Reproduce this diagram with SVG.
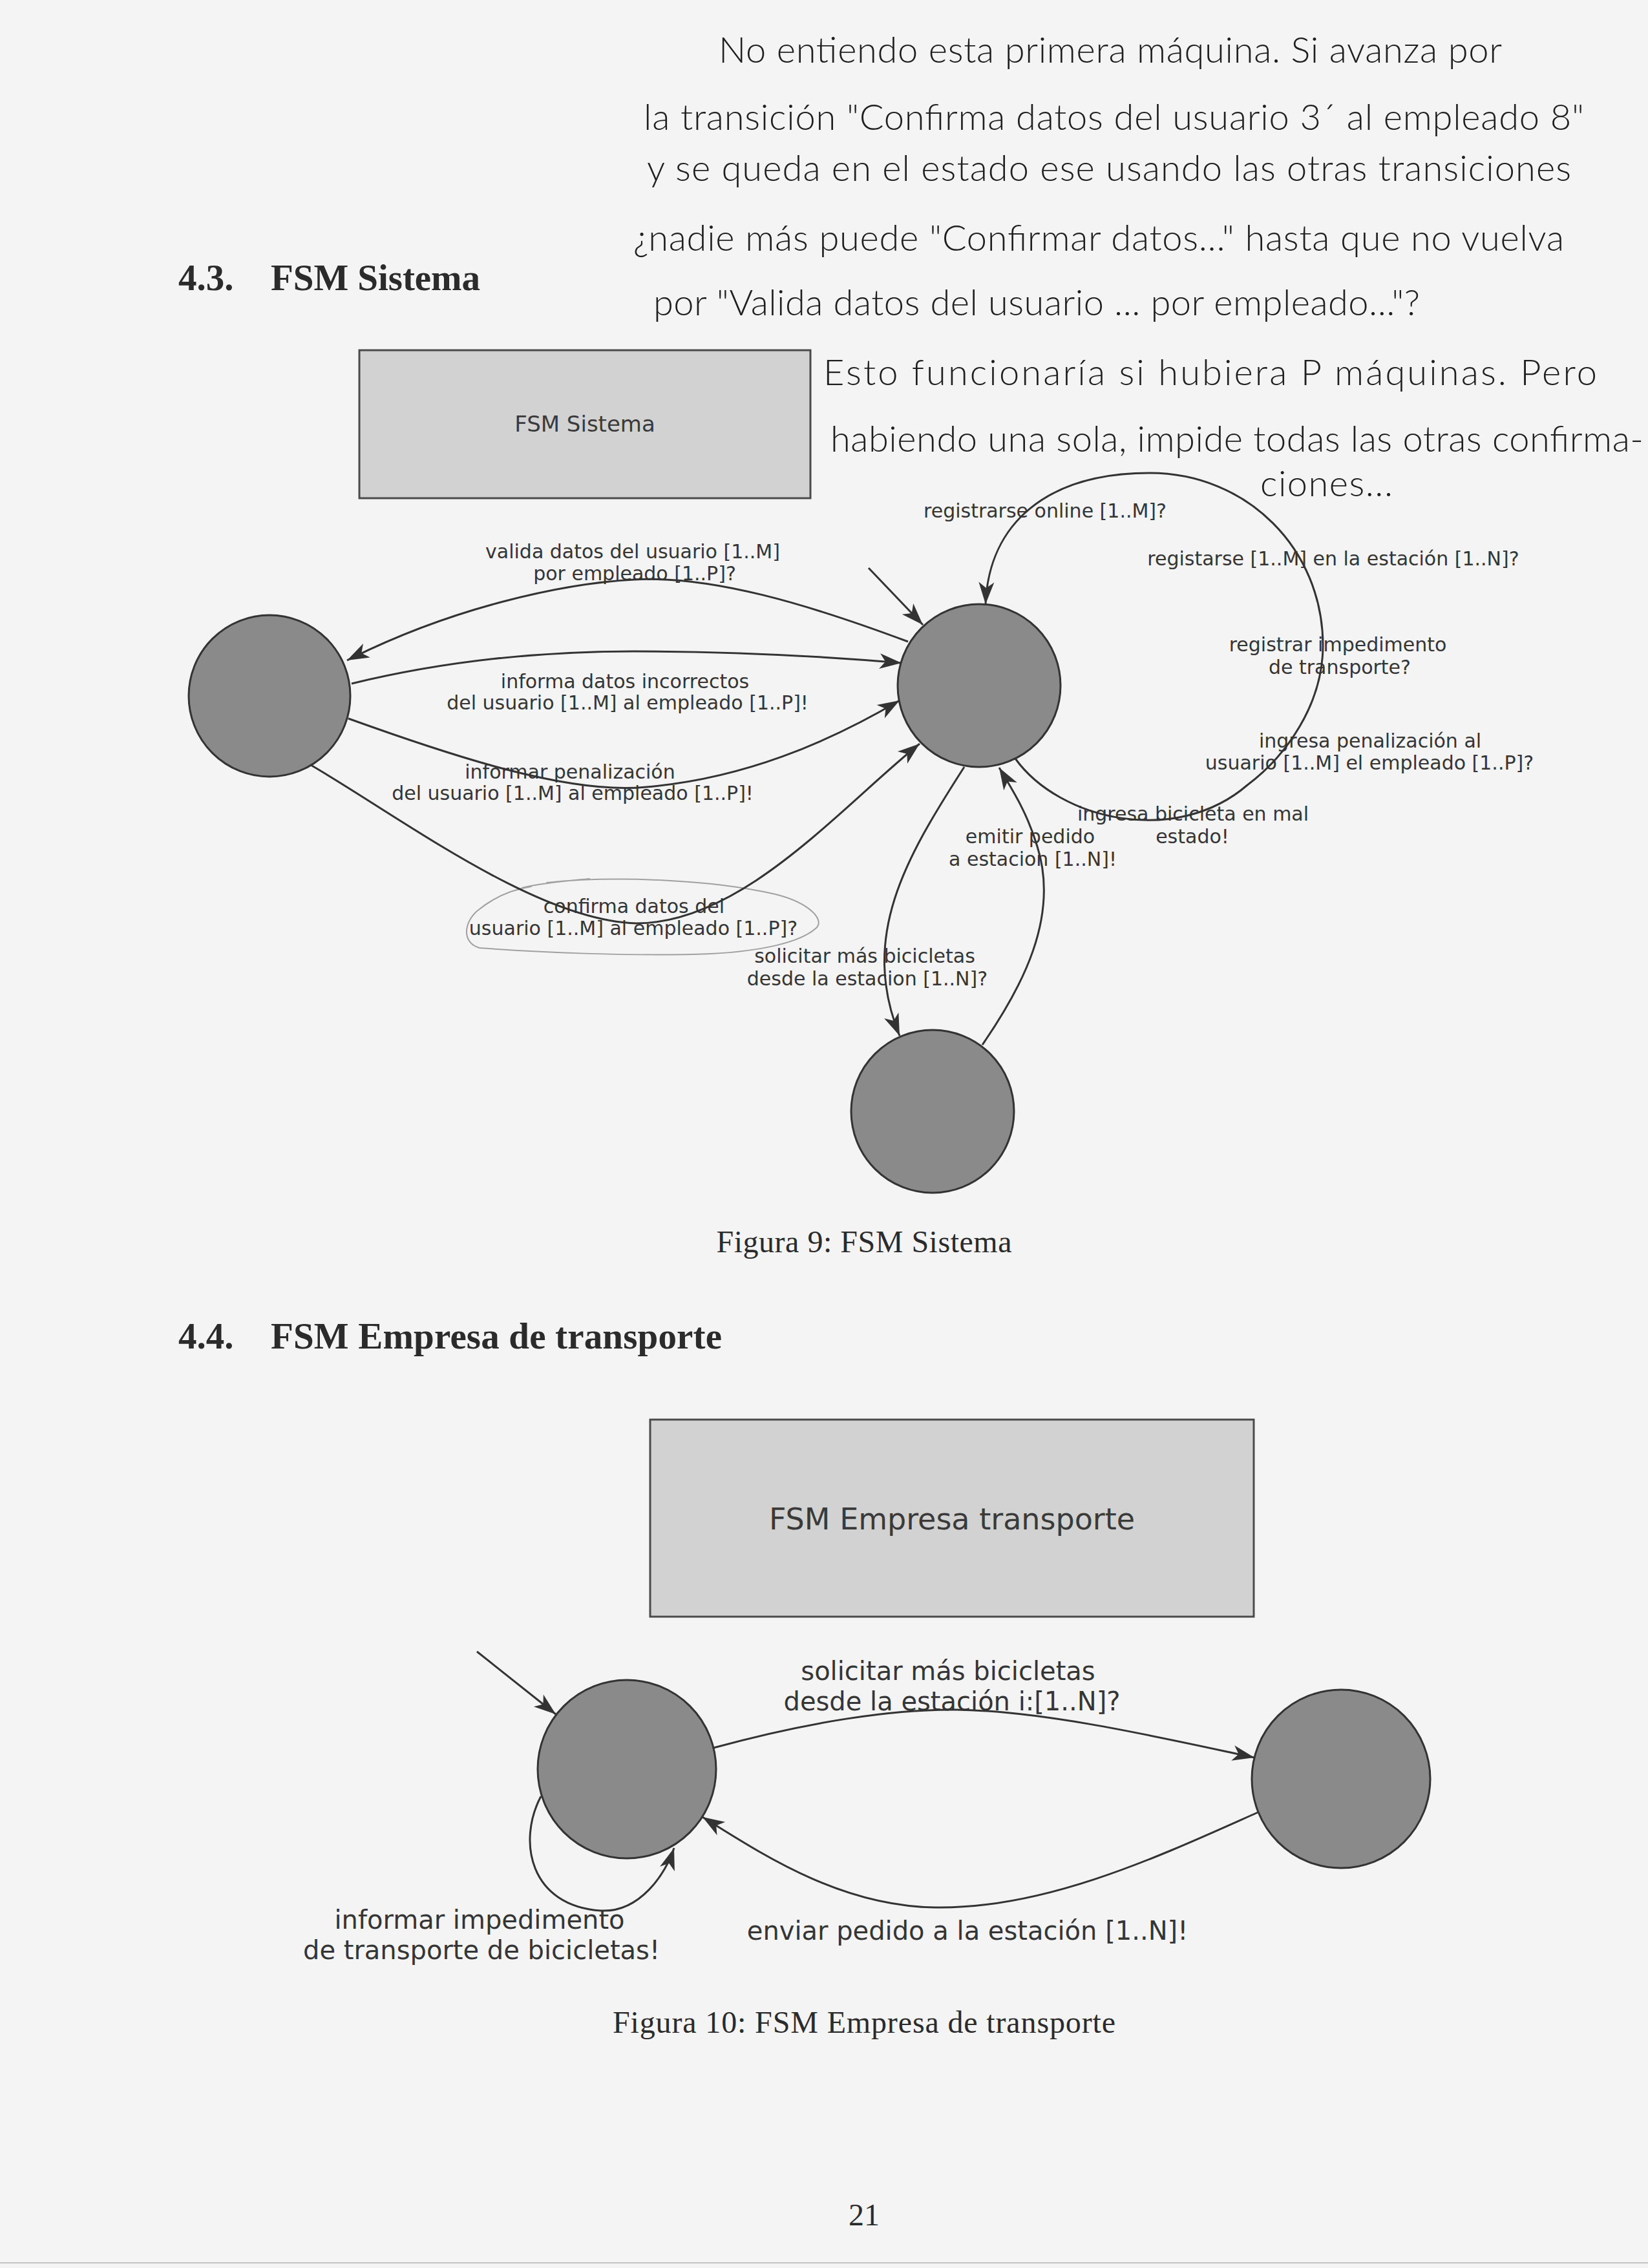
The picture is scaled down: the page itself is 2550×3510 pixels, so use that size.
<svg xmlns="http://www.w3.org/2000/svg" width="2550" height="3510" viewBox="0 0 2550 3510">
  <style>
    .page { fill: #f4f4f4; }
    .hand { font-family: "Lato", "Open Sans", "DejaVu Sans", sans-serif; font-weight: 300; font-size: 56px; fill: #1f1f1f; }
    .head { font-family: "Liberation Serif", "DejaVu Serif", serif; font-weight: bold; font-size: 57px; fill: #2b2b2b; }
    .cap { font-family: "Liberation Serif", "DejaVu Serif", serif; font-size: 48px; fill: #2b2b2b; }
    .title { font-family: "DejaVu Sans", "Liberation Sans", sans-serif; fill: #3a3a3a; text-anchor: middle; }
    .lbl { font-family: "DejaVu Sans", "Liberation Sans", sans-serif; font-size: 30px; fill: #353535; text-anchor: middle; }
    .lbl2 { font-family: "DejaVu Sans", "Liberation Sans", sans-serif; font-size: 40px; fill: #353535; text-anchor: middle; }
    .box { fill: #d2d2d2; stroke: #4a4a4a; stroke-width: 3; }
    .state { fill: #8a8a8a; stroke: #333333; stroke-width: 3; }
    .edge { fill: none; stroke: #333333; stroke-width: 3; marker-end: url(#arr); }
    .pencil { fill: none; stroke: #a0a0a0; stroke-width: 2; stroke-linecap: round; }
  </style>
  <defs>
    <marker id="arr" markerUnits="userSpaceOnUse" markerWidth="38" markerHeight="30" viewBox="-36 -15 38 30" refX="0" refY="0" orient="auto">
      <path d="M0,0 L-34,-12 L-25,0 L-34,12 Z" fill="#333333"/>
    </marker>
  </defs>

  <rect class="page" x="0" y="0" width="2550" height="3510"/>
  <line x1="0" y1="3502" x2="2550" y2="3502" stroke="#c4c4c4" stroke-width="2"/>

  <!-- handwritten margin note -->
  <g id="note">
    <text class="hand" x="1112" y="97" textLength="1212">No entiendo esta primera máquina. Si avanza por</text>
    <text class="hand" x="996" y="201" textLength="1455">la transición "Confirma datos del usuario 3´ al empleado 8"</text>
    <text class="hand" x="1001" y="280" textLength="1430">y se queda en el estado ese usando las otras transiciones</text>
    <text class="hand" x="980" y="388" textLength="1440">¿nadie más puede "Confirmar datos..." hasta que no vuelva</text>
    <text class="hand" x="1011" y="488" textLength="1186">por "Valida datos del usuario ... por empleado..."?</text>
    <text class="hand" x="1274" y="596" textLength="1197">Esto funcionaría si hubiera P máquinas. Pero</text>
    <text class="hand" x="1285" y="699" textLength="1258">habiendo una sola, impide todas las otras confirma-</text>
    <text class="hand" x="1950" y="768" textLength="205">ciones...</text>
  </g>

  <!-- section 4.3 -->
  <text class="head" y="449"><tspan x="276">4.3.</tspan><tspan x="419" textLength="324">FSM Sistema</tspan></text>

  <g id="fsm-sistema-title">
    <rect class="box" x="556" y="542" width="698" height="229"/>
    <text class="title" x="905" y="668" font-size="34">FSM Sistema</text>
  </g>

  <!-- transition labels, figure 9 -->
  <g id="labels-sistema">
    <text class="lbl" x="979" y="864">valida datos del usuario [1..M]</text>
    <text class="lbl" x="982" y="898">por empleado [1..P]?</text>
    <text class="lbl" x="967" y="1065">informa datos incorrectos</text>
    <text class="lbl" x="971" y="1098">del usuario [1..M] al empleado [1..P]!</text>
    <text class="lbl" x="882" y="1205">informar penalización</text>
    <text class="lbl" x="886" y="1238">del usuario [1..M] al empleado [1..P]!</text>
    <text class="lbl" x="981" y="1413">confirma datos del</text>
    <text class="lbl" x="980" y="1447">usuario [1..M] al empleado [1..P]?</text>
    <text class="lbl" x="1338" y="1490">solicitar más bicicletas</text>
    <text class="lbl" x="1342" y="1525">desde la estacion [1..N]?</text>
    <text class="lbl" x="1617" y="801">registrarse online [1..M]?</text>
    <text class="lbl" x="2063" y="875">registarse [1..M] en la estación [1..N]?</text>
    <text class="lbl" x="2070" y="1008">registrar impedimento</text>
    <text class="lbl" x="2073" y="1043">de transporte?</text>
    <text class="lbl" x="2120" y="1157">ingresa penalización al</text>
    <text class="lbl" x="2119" y="1191">usuario [1..M] el empleado [1..P]?</text>
    <text class="lbl" x="1846" y="1270">ingresa bicicleta en mal</text>
    <text class="lbl" x="1845" y="1305">estado!</text>
    <text class="lbl" x="1594" y="1305">emitir pedido</text>
    <text class="lbl" x="1598" y="1340">a estacion [1..N]!</text>
  </g>

  <!-- pencil loop around a label -->
  <path class="pencil" d="M 846 1366 C 950 1355, 1100 1361, 1200 1384 C 1252 1397, 1278 1424, 1262 1437 C 1238 1458, 1180 1472, 1100 1476 C 980 1481, 820 1473, 742 1467 C 716 1460, 716 1430, 738 1410 C 762 1390, 790 1377, 822 1372 M 808 1374 C 840 1366, 880 1363, 912 1360"/>

  <!-- states, figure 9 -->
  <g id="s-validacion"><circle class="state" cx="417" cy="1077" r="125"/></g>
  <g id="s-sistema"><circle class="state" cx="1515" cy="1061" r="126"/></g>
  <g id="s-estacion"><circle class="state" cx="1443" cy="1720" r="126"/></g>

  <!-- transitions, figure 9 -->
  <g id="edges-sistema">
    <path class="edge" d="M 1344 879 L 1428 967"/>
    <path class="edge" d="M 1405 993 C 1250 935, 1100 890, 981 897 C 870 903, 700 940, 537 1022"/>
    <path class="edge" d="M 544 1058 C 700 1020, 850 1008, 981 1008 C 1150 1008, 1300 1018, 1395 1026"/>
    <path class="edge" d="M 539 1112 C 700 1170, 880 1230, 1000 1218 C 1150 1205, 1280 1150, 1392 1084"/>
    <path class="edge" d="M 481 1184 C 620 1265, 830 1425, 985 1429 C 1150 1428, 1300 1250, 1423 1151"/>
    <path class="edge" d="M 1492 1187 C 1400 1330, 1330 1450, 1392 1603"/>
    <path class="edge" d="M 1520 1617 C 1580 1530, 1640 1420, 1605 1310 C 1590 1260, 1570 1228, 1546 1188"/>
    <path class="edge" d="M 1571 1174 C 1640 1270, 1820 1310, 1930 1215 C 1990 1170, 2047 1090, 2047 999 C 2047 850, 1930 732, 1779 732 C 1620 732, 1530 810, 1525 935"/>
  </g>

  <text class="cap" x="1337" y="1938" text-anchor="middle" textLength="457">Figura 9: FSM Sistema</text>

  <!-- section 4.4 -->
  <text class="head" y="2087"><tspan x="276">4.4.</tspan><tspan x="419" textLength="698">FSM Empresa de transporte</tspan></text>

  <g id="fsm-empresa-title">
    <rect class="box" x="1006" y="2197" width="934" height="305"/>
    <text class="title" x="1473" y="2367" font-size="46">FSM Empresa transporte</text>
  </g>

  <!-- transition labels, figure 10 -->
  <g id="labels-empresa">
    <text class="lbl2" x="1467" y="2600">solicitar más bicicletas</text>
    <text class="lbl2" x="1473" y="2647">desde la estación i:[1..N]?</text>
    <text class="lbl2" x="1497" y="3002">enviar pedido a la estación [1..N]!</text>
    <text class="lbl2" x="742" y="2985">informar impedimento</text>
    <text class="lbl2" x="745" y="3032">de transporte de bicicletas!</text>
  </g>

  <!-- states, figure 10 -->
  <g id="e-empresa"><circle class="state" cx="970" cy="2738" r="138"/></g>
  <g id="e-pedido"><circle class="state" cx="2075" cy="2753" r="138"/></g>

  <!-- transitions, figure 10 -->
  <g id="edges-empresa">
    <path class="edge" d="M 738 2556 L 860 2653"/>
    <path class="edge" d="M 1104 2705 C 1250 2665, 1380 2645, 1480 2646 C 1620 2648, 1800 2690, 1941 2720"/>
    <path class="edge" d="M 1946 2805 C 1800 2870, 1620 2955, 1447 2952 C 1300 2950, 1180 2870, 1087 2812"/>
    <path class="edge" d="M 837 2780 C 800 2850, 820 2950, 930 2957 C 990 2960, 1030 2900, 1043 2860"/>
  </g>

  <text class="cap" x="1337" y="3146" text-anchor="middle" textLength="778">Figura 10: FSM Empresa de transporte</text>
  <text class="cap" x="1337" y="3444" text-anchor="middle" font-size="46">21</text>
</svg>
